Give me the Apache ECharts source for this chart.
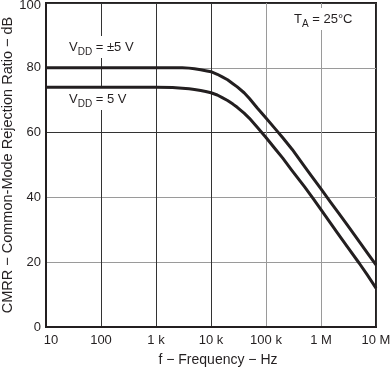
<!DOCTYPE html>
<html>
<head>
<meta charset="utf-8">
<script src="https://cdn.jsdelivr.net/npm/echarts@6/dist/echarts.min.js"></script>
<style>
html,body{margin:0;padding:0;background:#fff;}
#c{width:390px;height:370px;}
</style>
</head>
<body>
<div id="c"></div>
<script>
// Data
var freqA = [10, 100, 1000, 3000, 4000, 5000, 6500, 8000, 10000, 13000, 16000, 20000, 25000, 30000, 40000, 50000, 70000, 100000, 150000, 200000, 300000, 500000, 700000, 1000000, 1500000, 2000000, 3000000, 5000000, 7000000, 10000000];
var cmrrA = [80, 80, 80, 80, 79.9, 79.7, 79.4, 79.1, 78.8, 78.0, 77.2, 76.3, 75.1, 74.1, 72.3, 70.5, 67.5, 64.5, 61.0, 58.5, 54.8, 49.6, 46.2, 42.6, 38.5, 35.6, 31.5, 26.3, 22.8, 19.2];
var freqB = [10, 100, 1000, 2000, 3000, 4000, 5000, 6500, 8000, 10000, 13000, 16000, 20000, 25000, 30000, 40000, 50000, 70000, 100000, 150000, 200000, 300000, 500000, 700000, 1000000, 1500000, 2000000, 3000000, 5000000, 7000000, 10000000];
var cmrrB = [74, 74, 74, 73.9, 73.7, 73.5, 73.3, 73.0, 72.7, 72.3, 71.6, 70.8, 69.9, 68.8, 67.8, 66.0, 64.4, 61.6, 58.5, 54.8, 52.2, 48.2, 43.3, 39.9, 36.2, 32.0, 29.0, 24.8, 19.6, 16.0, 12.0];
var xTickValues = [10, 100, 1000, 10000, 100000, 1000000, 10000000];
var xTickLabels = ['10', '100', '1 k', '10 k', '100 k', '1 M', '10 M'];
var yTicks = [0, 20, 40, 60, 80, 100];

function pairs(xs, ys) { return xs.map(function (x, i) { return [x, ys[i]]; }); }

var FONT = 'Liberation Sans, Arial, Helvetica, sans-serif';
var INK = '#231f20';
var DARK = '#333333';
var GRAY = '#9a9a9a';

var richStyles = {
  v: {fontFamily: FONT, fontSize: 13, lineHeight: 20, fill: INK, verticalAlign: 'middle'},
  s: {fontFamily: FONT, fontSize: 10, lineHeight: 11, fill: INK, verticalAlign: 'bottom'}
};

var chart = echarts.init(document.getElementById('c'), null, {renderer: 'canvas'});
chart.setOption({
  animation: false,
  backgroundColor: '#fff',
  grid: {left: 46, right: 14, top: 3, bottom: 43, outerBoundsMode: 'none', containLabel: false,
         show: true, borderColor: INK, borderWidth: 2, backgroundColor: 'transparent'},
  xAxis: {
    type: 'log', logBase: 10, min: 10, max: 10000000,
    name: 'f − Frequency − Hz', nameLocation: 'middle', nameGap: 26, nameMoveOverlap: false,
    nameTextStyle: {fontFamily: FONT, fontSize: 14, color: INK, padding: [0, 0, 0, 14]},
    axisLine: {show: true, lineStyle: {color: INK, width: 2}},
    axisTick: {show: false},
    axisLabel: {
      margin: 7, fontFamily: FONT, fontSize: 13, color: INK,
      formatter: function (v) {
        var i = xTickValues.findIndex(function (t) { return Math.abs(t - v) / t < 1e-6; });
        if (i < 0) return '';
        return i === 0 ? '{first|' + xTickLabels[i] + '}' : xTickLabels[i];
      },
      rich: {first: {fontFamily: FONT, fontSize: 13, color: INK, padding: [0, 0, 0, 10]}}
    },
    splitLine: {show: true, lineStyle: {color: [DARK, DARK, DARK, DARK, GRAY, GRAY, DARK], width: 1}}
  },
  yAxis: {
    type: 'value', min: 0, max: 100, interval: 20,
    name: 'CMRR − Common-Mode Rejection Ratio − dB', nameLocation: 'middle', nameGap: 31, nameMoveOverlap: false,
    nameTextStyle: {fontFamily: FONT, fontSize: 14.5, color: INK},
    axisLine: {show: true, lineStyle: {color: INK, width: 2}},
    axisTick: {show: false},
    axisLabel: {margin: 5, fontFamily: FONT, fontSize: 13, color: INK,
      formatter: function (v) {
        if (yTicks.indexOf(v) < 0) return '';
        return v === yTicks[yTicks.length - 1] ? '{top|' + v + '}' : String(v);
      },
      rich: {top: {fontFamily: FONT, fontSize: 13, color: INK, padding: [5, 0, 0, 0]}}},
    splitLine: {show: true, lineStyle: {color: [DARK, GRAY, GRAY, DARK, GRAY, DARK], width: 1}}
  },
  series: [
    {type: 'line', name: 'VDD = ±5 V', data: pairs(freqA, cmrrA), smooth: false,
     symbol: 'none', lineStyle: {color: INK, width: 3, join: 'round'}, z: 5},
    {type: 'line', name: 'VDD = 5 V', data: pairs(freqB, cmrrB), smooth: false,
     symbol: 'none', lineStyle: {color: INK, width: 3, join: 'round'}, z: 5}
  ],
  graphic: [
    {type: 'text', x: 67, y: 47, z: 3,
     style: {text: '{v|V}{s|DD}{v| = ±5 V}', textAlign: 'left', textVerticalAlign: 'middle',
       backgroundColor: '#fff', padding: [1, 2, 1, 2], rich: richStyles}},
    {type: 'text', x: 67, y: 99, z: 3,
     style: {text: '{v|V}{s|DD}{v| = 5 V}', textAlign: 'left', textVerticalAlign: 'middle',
       backgroundColor: '#fff', padding: [1, 2, 1, 2], rich: richStyles}},
    {type: 'text', x: 292, y: 19, z: 3,
     style: {text: '{v|T}{s|A}{v| = 25°C}', textAlign: 'left', textVerticalAlign: 'middle',
       backgroundColor: '#fff', padding: [1, 2, 1, 2], rich: richStyles}}
  ]
});
</script>
</body>
</html>
